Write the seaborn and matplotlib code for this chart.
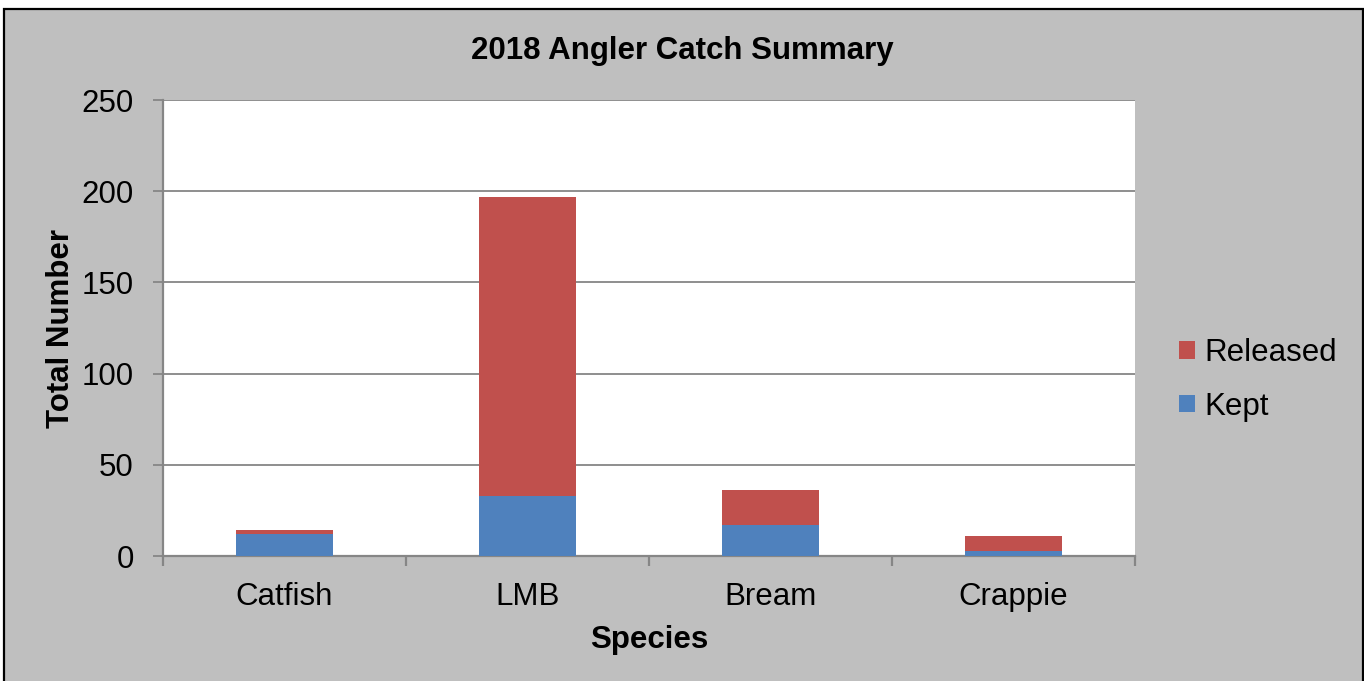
import pandas as pd
import matplotlib
matplotlib.use('Agg')
import matplotlib.pyplot as plt
import seaborn as sns
from matplotlib.patches import Rectangle, Patch

# ---- data ----
species = ['Catfish', 'LMB', 'Bream', 'Crappie']
kept = [12, 33, 17, 3]
released = [2, 164, 19, 8]
y_ticks = [0, 50, 100, 150, 200, 250]

df = pd.DataFrame({'Species': species, 'Kept': kept, 'Released': released})
df['Total'] = df['Kept'] + df['Released']

KEPT_COLOR = '#4F81BD'
REL_COLOR = '#C0504D'
GRID = '#868686'
BG = '#BFBFBF'

plt.rcParams['font.family'] = ['Liberation Sans', 'DejaVu Sans']

W, H = 1364, 681
fig = plt.figure(figsize=(W / 100, H / 100), dpi=100, facecolor='white')

# grey chart area with black frame (bottom edge runs off the image)
fig.patches.append(Rectangle((3.5 / W, -0.05), (1362.5 - 3.5) / W, 1.05 - 9 / H,
                             transform=fig.transFigure, facecolor=BG,
                             edgecolor='black', linewidth=1.6, zorder=-5))

ax = fig.add_axes([163 / W, 1 - 556 / H, 972 / W, 456 / H])
ax.set_facecolor('white')

# stacked bars: total (red) first, kept (blue) on top
sns.barplot(data=df, x='Species', y='Total', color=REL_COLOR, width=0.4,
            saturation=1, ax=ax, zorder=3)
sns.barplot(data=df, x='Species', y='Kept', color=KEPT_COLOR, width=0.4,
            saturation=1, ax=ax, zorder=3)

ax.set_xlim(-0.5, len(species) - 0.5)
ax.set_ylim(0, 250)
ax.set_yticks(y_ticks)
ax.set_axisbelow(True)
ax.yaxis.grid(True, color=GRID, linewidth=1.3)
ax.xaxis.grid(False)

for side in ['top', 'right']:
    ax.spines[side].set_visible(False)
for side in ['left', 'bottom']:
    ax.spines[side].set_color(GRID)
    ax.spines[side].set_linewidth(1.6)

ax.set_xticks([i - 0.5 for i in range(len(species) + 1)], minor=True)
ax.tick_params(axis='x', which='major', length=0, pad=19, labelsize=22.5, labelcolor='black')
ax.tick_params(axis='x', which='minor', length=7, width=1.6, color=GRID, direction='out')
ax.tick_params(axis='y', length=7, width=1.3, color=GRID, direction='out', pad=14,
               labelsize=22.5, labelcolor='black')

ax.set_xlabel('Species', fontsize=22.5, fontweight='bold')
ax.set_ylabel('Total Number', fontsize=22.5, fontweight='bold')
ax.xaxis.set_label_coords(0.5, -0.151)
ax.yaxis.set_label_coords(-0.09, 0.5)

fig.text(0.5, 1 - 59 / H, '2018 Angler Catch Summary', ha='center', va='baseline',
         fontsize=22.5, fontweight='bold')

handles = [Patch(facecolor=REL_COLOR, label='Released'),
           Patch(facecolor=KEPT_COLOR, label='Kept')]
fig.legend(handles=handles, loc='center left', bbox_to_anchor=(1179 / W, 1 - 380 / H),
           frameon=False, fontsize=22.5, handlelength=0.5, handleheight=0.5,
           handletextpad=0.3, labelspacing=0.74, borderpad=0, borderaxespad=0)

fig.savefig('out.png', dpi=100, facecolor='white')
